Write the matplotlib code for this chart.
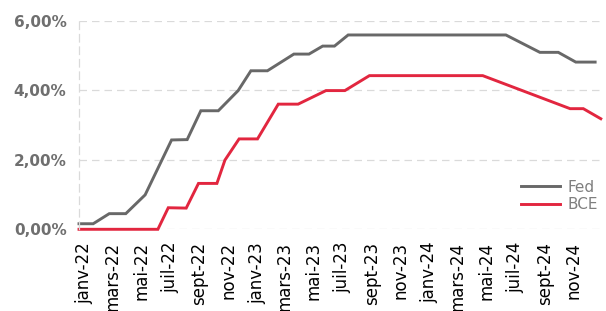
import pandas as pd
import matplotlib
matplotlib.use("Agg")
import matplotlib.pyplot as plt

# taux directeurs (%)
fed_dates = ["2021-12-20", "2022-01-19", "2022-02-22", "2022-03-29", "2022-05-09",
             "2022-07-04", "2022-08-06", "2022-09-04", "2022-10-11", "2022-11-22",
             "2022-12-19", "2023-01-23", "2023-03-20", "2023-04-21", "2023-05-20",
             "2023-06-14", "2023-07-13", "2024-06-11", "2024-08-22", "2024-09-30",
             "2024-11-06", "2024-12-17"]
fed_rate = [0.16, 0.16, 0.45, 0.45, 0.99,
            2.57, 2.58, 3.41, 3.41, 3.99,
            4.56, 4.56, 5.04, 5.04, 5.27,
            5.27, 5.59, 5.59, 5.09, 5.09,
            4.81, 4.81]

bce_dates = ["2021-12-20", "2022-06-05", "2022-06-27", "2022-08-04", "2022-08-30",
             "2022-10-08", "2022-10-25", "2022-11-24", "2023-01-02", "2023-02-15",
             "2023-03-29", "2023-05-27", "2023-07-06", "2023-08-27", "2024-04-23",
             "2024-10-25", "2024-11-22", "2024-12-29"]
bce_rate = [0.0, 0.0, 0.62, 0.61, 1.32,
            1.32, 1.99, 2.60, 2.60, 3.60,
            3.60, 3.99, 3.99, 4.42, 4.42,
            3.47, 3.47, 3.18]

tick_dates = pd.date_range("2022-01-01", "2024-11-01", freq="2MS")
mois = {1: "janv", 3: "mars", 5: "mai", 7: "juil", 9: "sept", 11: "nov"}
tick_labels = [mois[d.month] + "-" + d.strftime("%y") for d in tick_dates]

y_ticks = [0, 2, 4, 6]
y_labels = ["0,00%", "2,00%", "4,00%", "6,00%"]

fed_x = pd.to_datetime(fed_dates)
bce_x = pd.to_datetime(bce_dates)

fig = plt.figure(figsize=(6.06, 3.11), dpi=100)
ax = fig.add_axes([0.1304, 0.2627, 0.861, 0.6707])

ax.plot(fed_x, fed_rate, color="#686868", lw=2.1, label="Fed", clip_on=False,
        solid_joinstyle="miter")
ax.plot(bce_x, bce_rate, color="#e2263f", lw=2.1, label="BCE", clip_on=False,
        solid_joinstyle="miter")

ax.set_xlim(bce_x[0], bce_x[-1])
ax.set_ylim(0, 6)

ax.set_yticks(y_ticks)
ax.set_yticklabels(y_labels, fontsize=11, fontweight="bold", color="#6f6f6f")
ax.set_xticks(tick_dates)
ax.set_xticklabels(tick_labels, rotation=90, fontsize=12, color="black")
ax.tick_params(axis="both", length=0)
ax.tick_params(axis="y", pad=9)
ax.tick_params(axis="x", pad=9)

ax.grid(axis="y", color="#dadada", lw=0.9, dashes=(6, 4))
ax.set_axisbelow(True)
for s in ["top", "right", "bottom"]:
    ax.spines[s].set_visible(False)
ax.spines["left"].set_color("#dadada")
ax.spines["left"].set_linestyle((0, (6, 4)))
ax.spines["left"].set_linewidth(0.9)

leg = ax.legend(loc="center left", bbox_to_anchor=(0.848, 0.16), frameon=False,
                fontsize=11, handlelength=2.5, handletextpad=0.5, labelspacing=0.15,
                borderaxespad=0, borderpad=0)
for t in leg.get_texts():
    t.set_color("#7f7f7f")

fig.savefig("out.png", dpi=100)
